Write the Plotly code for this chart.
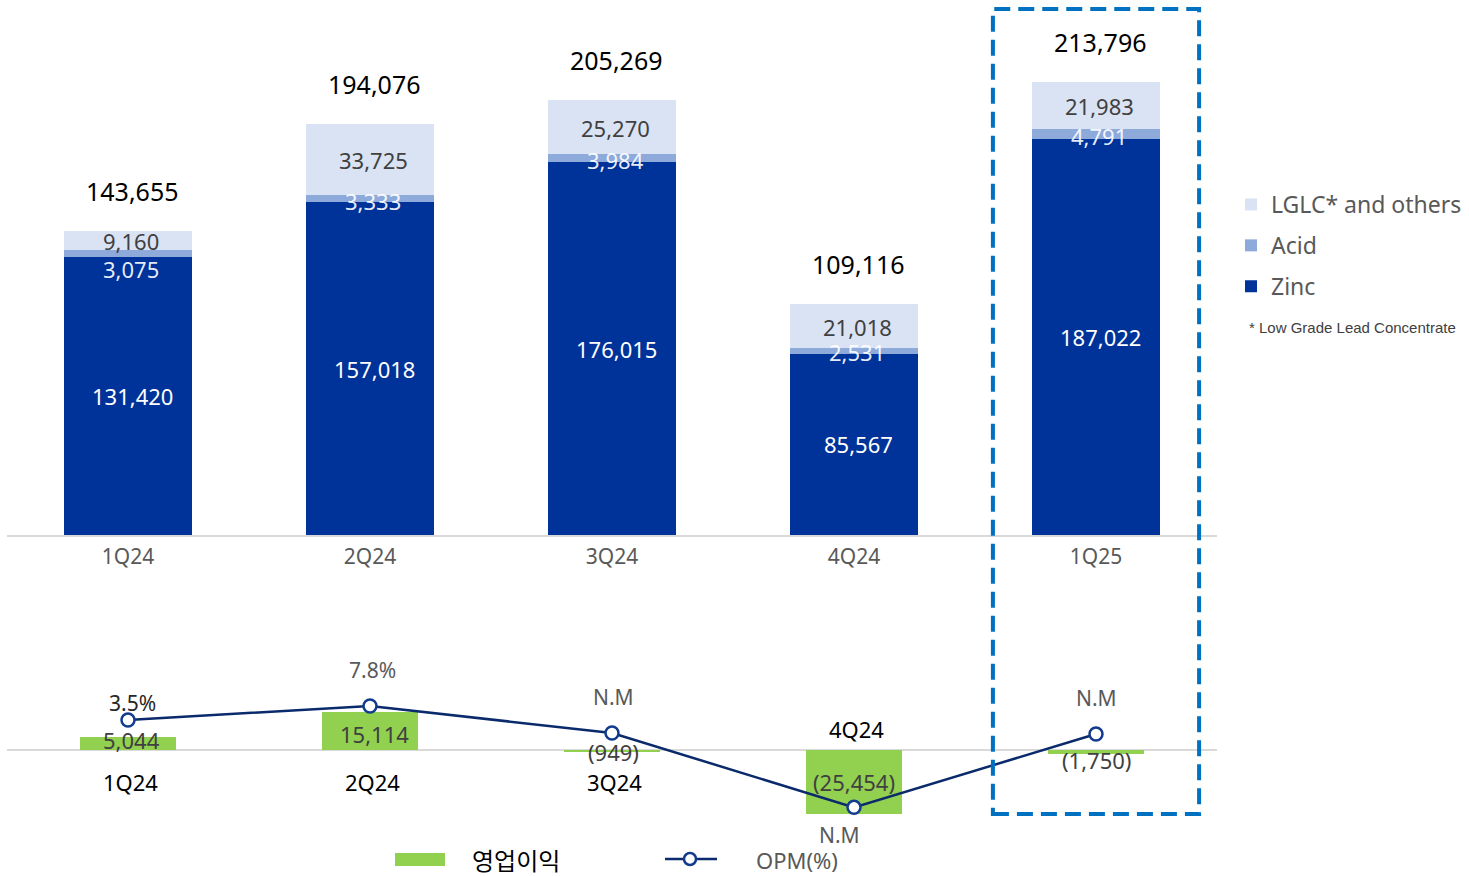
"""분기별 매출 구성 + 영업이익/OPM 차트"""
import plotly.graph_objects as go

quarters = ["1Q24", "2Q24", "3Q24", "4Q24", "1Q25"]
zinc = [131420, 157018, 176015, 85567, 187022]
acid = [3075, 3333, 3984, 2531, 4791]
lglc = [9160, 33725, 25270, 21018, 21983]
totals = [143655, 194076, 205269, 109116, 213796]

op_profit = [5044, 15114, -949, -25454, -1750]
opm = [3.5, 7.8, -0.5, -23.3, -0.8]
opm_labels = ["3.5%", "7.8%", "N.M", "N.M", "N.M"]
bottom_labels = ["1Q24", "2Q24", "3Q24", "4Q24", ""]

W, H = 1469, 876
ML, MR = 7, 252
FONT = "Noto Sans"
ZINC_C, ACID_C, LGLC_C = "#003399", "#8eaadb", "#dae3f3"
GREEN = "#92d050"
NAVY = "#0a2a6b"
GRAY_LINE = "#d9d9d9"


def px_x(px):
    return (px - ML) / (W - ML - MR)


def px_y(py):
    return 1 - py / H


def fmt(v):
    return f"({abs(v):,})" if v < 0 else f"{v:,}"


fig = go.Figure()

# ---- 상단: 제품별 매출 (stacked)
for rank, (name, vals, color) in enumerate([("Zinc", zinc, ZINC_C), ("Acid", acid, ACID_C),
                                            ("LGLC* and others", lglc, LGLC_C)]):
    fig.add_trace(go.Bar(
        x=quarters, y=vals, name=name, width=0.53,
        marker=dict(color=color, line=dict(width=0)),
        xaxis="x", yaxis="y", legendgroup=name, legendrank=10 - rank, legend="legend",
    ))

# ---- 하단: 영업이익 + OPM
fig.add_trace(go.Bar(
    x=quarters, y=op_profit, name="영업이익", width=0.4,
    marker=dict(color=GREEN, line=dict(width=0)),
    xaxis="x2", yaxis="y2", showlegend=False,
))
fig.add_trace(go.Scatter(
    x=quarters, y=opm, name="OPM(%)", mode="lines+markers",
    line=dict(color=NAVY, width=2.5),
    marker=dict(size=13, color="white", line=dict(color="#123b8e", width=2.5)),
    xaxis="x2", yaxis="y3", showlegend=False,
))

ann = []
acid_shift = [-12, 1, 2, 2, 3]
for q, z, a, l, t, s in zip(quarters, zinc, acid, lglc, totals, acid_shift):
    ann.append(dict(x=q, y=t, yshift=40, xshift=4, text=f"{t:,}", xref="x", yref="y",
                    showarrow=False, font=dict(size=25, color="#000000")))
    ann.append(dict(x=q, y=z / 2, xshift=4, text=f"{z:,}", xref="x", yref="y",
                    showarrow=False, font=dict(size=22, color="white")))
    ann.append(dict(x=q, y=z, yshift=s, xshift=3, text=f"{a:,}", xref="x", yref="y",
                    showarrow=False, font=dict(size=22, color="rgba(255,255,255,0.92)")))
    ann.append(dict(x=q, y=z + a + l / 2, yshift=-1, xshift=3, text=f"{l:,}",
                    xref="x", yref="y",
                    showarrow=False, font=dict(size=22, color="#404040")))

val_shift = [4, -3, -1, 0, -8]
val_xshift = [3, 4, 1, 0, 0]
opm_shift = [17, 36, 36, -28, 36]
opm_xshift = [4, 2, 1, -15, 0]
opm_color = ["#262626", "#595959", "#595959", "#595959", "#595959"]
cat_shift = [-32, -32, -32, 21, 0]
for i, q in enumerate(quarters):
    v = op_profit[i]
    ann.append(dict(x=q, y=v / 2, yshift=val_shift[i], xshift=val_xshift[i], text=fmt(v),
                    xref="x2", yref="y2",
                    showarrow=False, font=dict(size=22, color="#404040")))
    ann.append(dict(x=q, y=opm[i], yshift=opm_shift[i], xshift=opm_xshift[i],
                    text=opm_labels[i], xref="x2", yref="y3", showarrow=False,
                    font=dict(size=21, color=opm_color[i])))
    if bottom_labels[i]:
        ann.append(dict(x=q, y=0, yshift=cat_shift[i], xshift=2, text=bottom_labels[i],
                        xref="x2", yref="y2", showarrow=False,
                        font=dict(size=22, color="#000000")))

# 각주 / 하단 범례
ann.append(dict(x=px_x(1247), y=px_y(327), xref="paper", yref="paper",
                xanchor="left", yanchor="middle",
                text="* Low Grade Lead Concentrate", showarrow=False,
                font=dict(family="Liberation Sans", size=15, color="#404040")))
ann.append(dict(x=px_x(471), y=px_y(859), xref="paper", yref="paper",
                xanchor="left", yanchor="middle", borderpad=0,
                text="영업이익", showarrow=False,
                font=dict(family="Noto Sans CJK KR", size=24, color="#000000")))
ann.append(dict(x=px_x(755), y=px_y(860), xref="paper", yref="paper",
                xanchor="left", yanchor="middle", borderpad=0,
                text="OPM(%)", showarrow=False,
                font=dict(size=22, color="#595959")))

shapes = [
    dict(type="rect", xref="x", yref="paper", x0=3.574, x1=4.426,
         y0=px_y(814), y1=px_y(9),
         line=dict(color="#0070c0", width=4, dash="16px,8px")),
    dict(type="rect", xref="paper", yref="paper", x0=px_x(395), x1=px_x(445),
         y0=px_y(866), y1=px_y(853), fillcolor=GREEN, line=dict(width=0)),
    dict(type="line", xref="paper", yref="paper", x0=px_x(665), x1=px_x(717),
         y0=px_y(859), y1=px_y(859), line=dict(color=NAVY, width=2.5)),
    dict(type="circle", xref="paper", yref="paper", x0=px_x(684), x1=px_x(696),
         y0=px_y(865), y1=px_y(853), fillcolor="white",
         line=dict(color="#123b8e", width=2.5)),
]

fig.update_layout(
    width=W, height=H,
    margin=dict(l=ML, r=MR, t=0, b=0),
    paper_bgcolor="white", plot_bgcolor="white",
    font=dict(family=FONT),
    barmode="stack",
    xaxis=dict(domain=[0, 1], anchor="y", range=[-0.5, 4.5], showgrid=False,
               showline=True, linecolor=GRAY_LINE, linewidth=2,
               ticks="outside", ticklen=2, tickcolor="rgba(0,0,0,0)",
               tickfont=dict(size=21, color="#595959")),
    yaxis=dict(domain=[px_y(535), 1], anchor="x", range=[0, 252477], visible=False),
    xaxis2=dict(domain=[0, 1], anchor="y2", range=[-0.5, 4.5], visible=False),
    yaxis2=dict(domain=[0, 0.33], anchor="x2", range=[-50000, 64714],
                showgrid=False, showticklabels=False, zeroline=True,
                zerolinecolor=GRAY_LINE, zerolinewidth=2),
    yaxis3=dict(overlaying="y2", anchor="x2", range=[-44.36, 44.32], visible=False),
    legend=dict(x=px_x(1231), xanchor="left", y=px_y(183), yanchor="top",
                traceorder="grouped", tracegroupgap=8,
                font=dict(size=23, color="#595959"), bgcolor="rgba(0,0,0,0)"),
    annotations=ann,
    shapes=shapes,
)

fig.write_html("out.html", config={"displayModeBar": False},
               post_script="document.body.style.margin='0';")
